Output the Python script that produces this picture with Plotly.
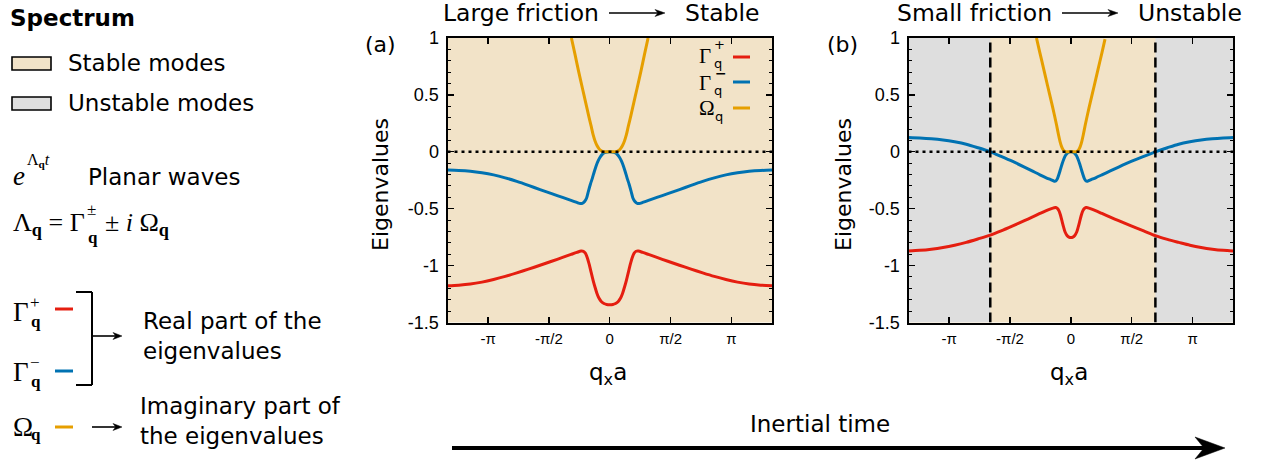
import math
import plotly.graph_objects as go

W, H = 1262, 464
OX, OY = 0, 0
SANS = "DejaVu Sans"
TICKF = "Liberation Sans"
SERIF = "Liberation Serif"
RED, BLUE, ORANGE = "#E51E10", "#0072B2", "#E69F00"
STABLE_BG, UNSTABLE_BG = "#F2E3C8", "#DEDEDE"

PI = math.pi
XRANGE = [-4.19, 4.19]
YRANGE = [-1.5, 1.0]
xtick_vals = [-PI, -PI / 2, 0, PI / 2, PI]
xtick_text = ["-π", "-π/2", "0", "π/2", "π"]
ytick_vals = [-1.5, -1.0, -0.5, 0.0, 0.5, 1.0]
ytick_text = ["-1.5", "-1", "-0.5", "0", "0.5", "1"]

# ---------------- panel (a): large friction ----------------
a_x = [-4.19, -3.9, -3.6, -3.3, -3.0, -2.7, -2.4, -2.1, -1.8, -1.5, -1.2, -1.0, -0.85, -0.76, -0.70, -0.65,
       -0.60, -0.55, -0.50, -0.45, -0.40, -0.35, -0.30, -0.25, -0.20, -0.15, -0.10, 0.0, 0.10, 0.15, 0.20,
       0.25, 0.30, 0.35, 0.40, 0.45, 0.50, 0.55, 0.60, 0.65, 0.70, 0.76, 0.85, 1.0, 1.2, 1.5, 1.8, 2.1,
       2.4, 2.7, 3.0, 3.3, 3.6, 3.9, 4.19]
a_gm_y = [-0.161, -0.164, -0.171, -0.184, -0.203, -0.229, -0.260, -0.295, -0.332, -0.368, -0.403, -0.427,
          -0.445, -0.455, -0.452, -0.437, -0.408, -0.345, -0.285, -0.233, -0.175, -0.122, -0.080, -0.048,
          -0.025, -0.011, -0.004, 0.0, -0.004, -0.011, -0.025, -0.048, -0.080, -0.122, -0.175, -0.233,
          -0.285, -0.345, -0.408, -0.437, -0.452, -0.455, -0.445, -0.427, -0.403, -0.368, -0.332, -0.295,
          -0.260, -0.229, -0.203, -0.184, -0.171, -0.164, -0.161]
a_gp_x = [-4.19, -3.9, -3.6, -3.3, -3.0, -2.7, -2.4, -2.1, -1.8, -1.5, -1.2, -1.0, -0.85, -0.74, -0.68,
          -0.63, -0.58, -0.53, -0.48, -0.43, -0.38, -0.33, -0.28, -0.22, -0.15, -0.08, 0.0, 0.08, 0.15,
          0.22, 0.28, 0.33, 0.38, 0.43, 0.48, 0.53, 0.58, 0.63, 0.68, 0.74, 0.85, 1.0, 1.2, 1.5, 1.8, 2.1,
          2.4, 2.7, 3.0, 3.3, 3.6, 3.9, 4.19]
a_gp_y = [-1.177, -1.172, -1.162, -1.145, -1.122, -1.095, -1.064, -1.031, -0.997, -0.962, -0.926, -0.902,
          -0.884, -0.872, -0.874, -0.890, -0.930, -0.990, -1.060, -1.129, -1.190, -1.245, -1.285, -1.315,
          -1.333, -1.341, -1.343, -1.341, -1.333, -1.315, -1.285, -1.245, -1.190, -1.129, -1.060, -0.990,
          -0.930, -0.890, -0.874, -0.872, -0.884, -0.902, -0.926, -0.962, -0.997, -1.031, -1.064, -1.095,
          -1.122, -1.145, -1.162, -1.172, -1.177]
a_om_x = [-0.99, -0.90, -0.80, -0.70, -0.62, -0.55, -0.48, -0.43, -0.38, -0.33, -0.28, -0.23, -0.18, -0.12,
          0.0, 0.12, 0.18, 0.23, 0.28, 0.33, 0.38, 0.43, 0.48, 0.55, 0.62, 0.70, 0.80, 0.90, 0.99]
a_om_y = [1.0, 0.86, 0.70, 0.55, 0.43, 0.325, 0.225, 0.15, 0.095, 0.055, 0.028, 0.011, 0.002, 0.0, 0.0,
          0.0, 0.002, 0.011, 0.028, 0.055, 0.095, 0.15, 0.225, 0.325, 0.43, 0.55, 0.70, 0.86, 1.0]

# ---------------- panel (b): small friction ----------------
b_x = [-4.19, -3.9, -3.6, -3.3, -3.0, -2.7, -2.4, -2.08, -1.8, -1.5, -1.2, -1.0, -0.8, -0.65, -0.52, -0.43,
       -0.39, -0.35, -0.31, -0.27, -0.23, -0.19, -0.15, -0.10, -0.05, 0.0, 0.05, 0.10, 0.15, 0.19, 0.23,
       0.27, 0.31, 0.35, 0.39, 0.43, 0.52, 0.65, 0.8, 1.016, 1.231, 1.555, 1.878, 2.18, 2.49, 2.78, 3.07,
       3.36, 3.65, 3.93, 4.19]
b_gm_y = [0.126, 0.122, 0.115, 0.104, 0.088, 0.067, 0.036, 0.0, -0.040, -0.085, -0.134, -0.168, -0.202,
          -0.226, -0.245, -0.258, -0.257, -0.238, -0.200, -0.155, -0.110, -0.070, -0.038, -0.014, -0.003,
          0.0, -0.003, -0.014, -0.038, -0.070, -0.110, -0.155, -0.200, -0.238, -0.257, -0.258, -0.245,
          -0.226, -0.202, -0.168, -0.134, -0.085, -0.040, 0.0, 0.036, 0.067, 0.088, 0.104, 0.115, 0.122,
          0.126]
b_gp_y = [-0.871, -0.866, -0.856, -0.841, -0.821, -0.796, -0.766, -0.732, -0.695, -0.651, -0.605, -0.574,
          -0.542, -0.519, -0.501, -0.491, -0.490, -0.497, -0.517, -0.555, -0.608, -0.660, -0.705, -0.735,
          -0.750, -0.754, -0.750, -0.735, -0.705, -0.660, -0.608, -0.555, -0.517, -0.497, -0.490, -0.491,
          -0.501, -0.519, -0.542, -0.574, -0.605, -0.651, -0.695, -0.737, -0.770, -0.796, -0.821, -0.841,
          -0.856, -0.866, -0.871]
b_om_x = [-0.888, -0.80, -0.70, -0.60, -0.50, -0.43, -0.37, -0.32, -0.28, -0.24, -0.20, -0.16, -0.11, 0.0,
          0.11, 0.16, 0.20, 0.24, 0.28, 0.32, 0.37, 0.43, 0.50, 0.60, 0.70, 0.80, 0.88]
b_om_y = [1.0, 0.87, 0.725, 0.578, 0.434, 0.33, 0.235, 0.15, 0.09, 0.045, 0.018, 0.004, 0.0, 0.0, 0.0,
          0.004, 0.018, 0.045, 0.09, 0.15, 0.235, 0.33, 0.434, 0.578, 0.725, 0.87, 0.99]

b_unstable_edges = [-2.08, 2.18]


def X(p):
    return (p - OX) / W


def Y(p):
    return 1 - (p - OY) / H


fig = go.Figure()
LW = 3
SM = 0.8
for xs, ys, col, xa, ya in [
    (a_x, a_gm_y, BLUE, "x", "y"), (a_gp_x, a_gp_y, RED, "x", "y"), (a_om_x, a_om_y, ORANGE, "x", "y"),
    (b_x, b_gm_y, BLUE, "x2", "y2"), (b_x, b_gp_y, RED, "x2", "y2"), (b_om_x, b_om_y, ORANGE, "x2", "y2"),
]:
    fig.add_trace(go.Scatter(x=xs, y=ys, mode="lines", xaxis=xa, yaxis=ya, showlegend=False,
                             hoverinfo="skip",
                             line=dict(color=col, width=LW, shape="spline", smoothing=SM)))


def xaxis(dom, anchor):
    return dict(domain=dom, range=XRANGE, anchor=anchor, tickmode="array", tickvals=xtick_vals,
                ticktext=xtick_text, ticks="inside", ticklen=6, tickwidth=1.3, tickcolor="black",
                showline=True, linecolor="black", linewidth=2, mirror="allticks", showgrid=False,
                zeroline=False, automargin=False, tickfont=dict(family=TICKF, size=15, color="black"),
                ticklabelstandoff=1, fixedrange=True)


def yaxis(anchor):
    return dict(domain=[Y(322.5), Y(38)], range=YRANGE, anchor=anchor, tickmode="array", tickvals=ytick_vals,
                ticktext=ytick_text, ticks="inside", ticklen=6, tickwidth=1.3, tickcolor="black",
                showline=True, linecolor="black", linewidth=2, mirror="allticks", showgrid=False,
                zeroline=False, automargin=False, tickfont=dict(family=TICKF, size=18, color="black"),
                ticklabelstandoff=3, fixedrange=True,
                minor=dict(ticks="inside", dtick=0.1, ticklen=3, tickwidth=1, tickcolor="black"))


shapes = []
annotations = []

# unstable (grey) regions in panel (b)
shapes.append(dict(type="rect", xref="x2", yref="y2", x0=XRANGE[0], x1=b_unstable_edges[0], y0=YRANGE[0],
                   y1=YRANGE[1], fillcolor=UNSTABLE_BG, line=dict(width=0), layer="below"))
shapes.append(dict(type="rect", xref="x2", yref="y2", x0=b_unstable_edges[1], x1=XRANGE[1], y0=YRANGE[0],
                   y1=YRANGE[1], fillcolor=UNSTABLE_BG, line=dict(width=0), layer="below"))
for xr, yr in [("x", "y"), ("x2", "y2")]:
    shapes.append(dict(type="line", xref=xr, yref=yr, x0=XRANGE[0], x1=XRANGE[1], y0=0, y1=0,
                       line=dict(color="black", width=2.5, dash="3px,4px")))
for xe in b_unstable_edges:
    shapes.append(dict(type="line", xref="x2", yref="y2", x0=xe, x1=xe, y0=YRANGE[0], y1=YRANGE[1],
                       line=dict(color="black", width=2.5, dash="10px,5px")))


def ann(text, x, y, size, xanchor="left", family=SANS, angle=0):
    annotations.append(dict(text=text, x=X(x), y=Y(y), xref="paper", yref="paper", xanchor=xanchor,
                            yanchor="middle", showarrow=False, textangle=angle,
                            font=dict(size=size, family=family, color="black")))


def hline(x0, x1, y, color="black", width=2):
    shapes.append(dict(type="line", xref="paper", yref="paper", x0=X(x0), x1=X(x1), y0=Y(y), y1=Y(y),
                       line=dict(color=color, width=width)))


def vline(x, y0, y1, width=2):
    shapes.append(dict(type="line", xref="paper", yref="paper", x0=X(x), x1=X(x), y0=Y(y0), y1=Y(y1),
                       line=dict(color="black", width=width)))


def arrow(x0, x1, y, width, hl, hw):
    hline(x0, x1 - hl * 0.6, y, width=width)
    path = "M {:.5f},{:.5f} L {:.5f},{:.5f} L {:.5f},{:.5f} L {:.5f},{:.5f} Z".format(
        X(x1), Y(y), X(x1 - hl), Y(y - hw), X(x1 - hl * 0.7), Y(y), X(x1 - hl), Y(y + hw))
    shapes.append(dict(type="path", xref="paper", yref="paper", path=path, fillcolor="black",
                       line=dict(color="black", width=0.5)))


def box(x0, x1, y0, y1, fill):
    shapes.append(dict(type="rect", xref="paper", yref="paper", x0=X(x0), x1=X(x1), y0=Y(y1), y1=Y(y0),
                       fillcolor=fill, line=dict(color="black", width=1.6)))


# ---------------- left-hand explanation ----------------
ann("<b>Spectrum</b>", 8, 18, 23)
box(12, 51, 57, 70, STABLE_BG)
ann("Stable modes", 66, 63, 23)
box(12, 51, 97, 110, UNSTABLE_BG)
ann("Unstable modes", 66, 103, 23)

ann("<i>e</i>", 11, 176, 27, family=SERIF)
ann("Λ<sub><b>q</b></sub><i>t</i>", 25, 160, 16, family=SERIF)
ann("Planar waves", 86, 177, 23)

ann("Λ<sub><b>q</b></sub> = Γ", 11, 224, 26, family=SERIF)
ann("±", 85, 209, 17, family=SERIF)
ann("<b>q</b>", 86, 237, 17, family=SERIF)
ann("± <i>i</i> Ω<sub><b>q</b></sub>", 103, 224, 26, family=SERIF)

ann("Γ", 11, 312, 27, family=SERIF)
ann("+", 28, 302, 17, family=SERIF)
ann("<b>q</b>", 29, 321, 17, family=SERIF)
hline(55, 73, 309, RED, 3)
ann("Γ", 11, 372, 27, family=SERIF)
ann("−", 28, 362, 17, family=SERIF)
ann("<b>q</b>", 29, 381, 17, family=SERIF)
hline(55, 73, 371, BLUE, 3)
ann("Ω", 11, 427, 27, family=SERIF)
ann("<b>q</b>", 29, 434, 17, family=SERIF)
hline(55, 73, 427, ORANGE, 3)

vline(92, 292, 385)
hline(76, 92, 292)
hline(76, 92, 385)
arrow(92, 122, 336, 1.6, 9, 3.5)
arrow(92, 122, 427, 1.6, 9, 3.5)
annotations.append(dict(text="Real part of the<br>eigenvalues", x=X(141), y=Y(336), xref="paper",
                        yref="paper", xanchor="left", yanchor="middle", align="left", showarrow=False,
                        font=dict(size=23, family=SANS, color="black")))
annotations.append(dict(text="Imaginary part of<br>the eigenvalues", x=X(138), y=Y(421), xref="paper",
                        yref="paper", xanchor="left", yanchor="middle", align="left", showarrow=False,
                        font=dict(size=23, family=SANS, color="black")))

# ---------------- panel titles ----------------
ann("Large friction", 441, 13, 23.5)
arrow(609, 665, 13, 1.5, 10, 3.5)
ann("Stable", 683, 13, 23.5)
ann("Small friction", 895, 13, 23.5)
arrow(1062, 1118, 13, 1.5, 10, 3.5)
ann("Unstable", 1136, 13, 23.5)
ann("(a)", 363, 45, 22)
ann("(b)", 825, 45, 22)

# axis titles
ann("Eigenvalues", 380, 185, 22, xanchor="center", angle=-90)
ann("Eigenvalues", 843, 185, 22, xanchor="center", angle=-90)
ann("q<sub>x</sub>a", 608, 374, 23, xanchor="center")
ann("q<sub>x</sub>a", 1069, 374, 23, xanchor="center")

# legend inside panel (a)
ann("Γ", 697, 56, 21, family=SERIF)
ann("+", 712, 45, 13, family=SANS)
ann("q", 712, 63, 13, family=SANS)
hline(733, 750, 57, RED, 3)
ann("Γ", 697, 83, 21, family=SERIF)
ann("<b>−</b>", 713, 73, 14, family=SANS)
ann("q", 712, 90, 13, family=SANS)
hline(733, 750, 82, BLUE, 3)
ann("Ω", 697, 108, 21, family=SERIF)
ann("q", 713, 116, 13, family=SANS)
hline(733, 750, 108, ORANGE, 3)

# bottom arrow
ann("Inertial time", 820, 424, 23, xanchor="center")
arrow(452, 1225, 448, 4, 30, 11)

fig.update_layout(
    width=W, height=H, margin=dict(l=0, r=0, t=0, b=0, autoexpand=False),
    paper_bgcolor="white", plot_bgcolor=STABLE_BG, showlegend=False, hovermode=False,
    xaxis=xaxis([X(447.5), X(772)], "y"), yaxis=yaxis("x"),
    xaxis2=xaxis([X(908.5), X(1233.3)], "y2"), yaxis2=yaxis("x2"),
    shapes=shapes, annotations=annotations,
)
fig.write_html("out.html", config={"displayModeBar": False, "staticPlot": True},
               post_script="document.body.style.margin='0px';")
